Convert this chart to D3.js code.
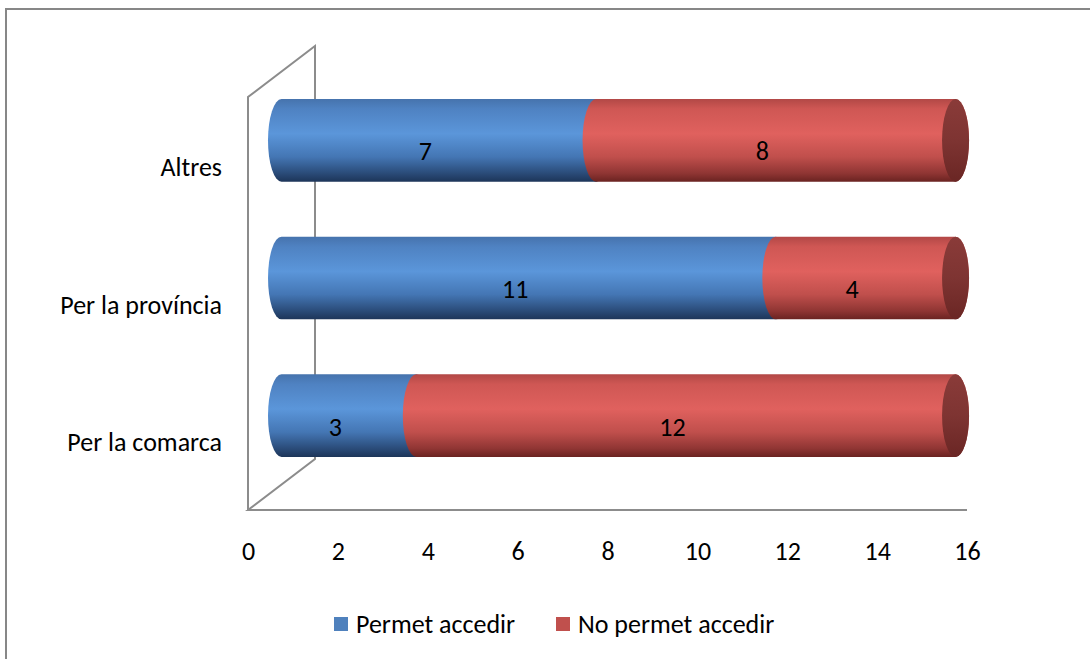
<!DOCTYPE html>
<html><head><meta charset="utf-8">
<script src="https://cdn.jsdelivr.net/npm/d3@7"></script>
<style>body{margin:0;background:#fff}svg{display:block}text{font-family:Carlito,Calibri,Lato,'Noto Sans',sans-serif;fill:#000}</style>
</head><body>
<svg id="c" width="1090" height="659"></svg>
<script>
const categories = ["Altres", "Per la província", "Per la comarca"];
const permet = [7, 11, 3];
const noPermet = [8, 4, 12];
const seriesNames = ["Permet accedir", "No permet accedir"];
const tickValues = [0, 2, 4, 6, 8, 10, 12, 14, 16];

const svg = d3.select("#c");
const fs = 26;

// outer border
svg.append("rect").attr("x", 6).attr("y", 9).attr("width", 1120).attr("height", 700)
  .attr("fill", "none").attr("stroke", "#878787").attr("stroke-width", 2);

const x = d3.scaleLinear().domain([0, 16]).range([248, 967]);
const y = d3.scaleBand().domain(categories).range([97, 510]).paddingInner(0.4).paddingOuter(0.2);
const depthX = 67, depthY = -51;
const bx = 33.5, by = -25.5; // bars at mid-depth

const defs = svg.append("defs");
function grad(id, stops) {
  const g = defs.append("linearGradient").attr("id", id).attr("x1", 0).attr("y1", 0).attr("x2", 0).attr("y2", 1);
  stops.forEach(s => g.append("stop").attr("offset", s[0]).attr("stop-color", s[1]));
}
grad("gBlue", [[0, "#4673ad"], [0.12, "#4f82c2"], [0.42, "#5b96da"], [0.7, "#4476b4"], [0.9, "#2a4b78"], [1, "#1d3559"]]);
grad("gRed", [[0, "#b24846"], [0.12, "#cf5754"], [0.42, "#e0615e"], [0.7, "#c04f4c"], [0.9, "#8f3533"], [1, "#6a2321"]]);
grad("gCap", [[0, "#8a3b39"], [0.5, "#7e3432"], [1, "#6a2624"]]);

// walls
const wall = svg.append("g").attr("stroke", "#8c8c8c").attr("stroke-width", 2).attr("fill", "none");
const x0 = x(0), yTop = 97, yBot = 510;
wall.append("path").attr("d", `M${x0},${yBot} L${x0},${yTop} L${x0 + depthX},${yTop + depthY} L${x0 + depthX},${yBot + depthY} L${x0},${yBot} L${x(16)},${yBot}`);

// bars
const rx = 13.5;
const barG = svg.append("g");
categories.forEach((cat, i) => {
  const t = y(cat) + by, b = y(cat) + y.bandwidth() + by, ry = (b - t) / 2, cy = (t + b) / 2;
  const segs = [[0, permet[i], "url(#gBlue)"], [permet[i], permet[i] + noPermet[i], "url(#gRed)"]];
  segs.forEach(s => {
    const xa = x(s[0]) + bx, xb = x(s[1]) + bx;
    barG.append("path")
      .attr("d", `M${xa},${t} L${xb},${t} A${rx},${ry} 0 0 1 ${xb},${b} L${xa},${b} A${rx},${ry} 0 0 1 ${xa},${t} Z`)
      .attr("fill", s[2]);
  });
  const xe = x(permet[i] + noPermet[i]) + bx;
  barG.append("ellipse").attr("cx", xe).attr("cy", cy).attr("rx", rx).attr("ry", ry).attr("fill", "url(#gCap)");
  // data labels
  segs.forEach(s => {
    barG.append("text").attr("x", (x(s[0]) + x(s[1])) / 2 + 20).attr("y", cy + 11)
      .attr("text-anchor", "middle").attr("dominant-baseline", "central").attr("font-size", fs)
      .text(s[1] - s[0]);
  });
  // category labels
  svg.append("text").attr("x", 222).attr("y", y(cat) + y.bandwidth() / 2 + 1)
    .attr("text-anchor", "end").attr("dominant-baseline", "central").attr("font-size", fs).text(cat);
});

// x axis labels
const axis = d3.axisBottom(x).tickValues(tickValues).tickSize(0).tickPadding(0);
const ag = svg.append("g").attr("transform", `translate(0,540)`).call(axis);
ag.select(".domain").remove();
ag.selectAll("text").attr("font-size", fs).attr("dy", null).attr("y", 11).attr("dominant-baseline", "central")
  .style("font-family", "Carlito,Calibri,Lato,'Noto Sans',sans-serif");

// legend
const legColors = ["#4f81bd", "#c0504d"];
const legX = [334, 556];
seriesNames.forEach((n, i) => {
  svg.append("rect").attr("x", legX[i]).attr("y", 617).attr("width", 14).attr("height", 14).attr("fill", legColors[i]);
  svg.append("text").attr("x", legX[i] + 22).attr("y", 624).attr("dominant-baseline", "central")
    .attr("font-size", fs).text(n);
});
</script>
</body></html>
